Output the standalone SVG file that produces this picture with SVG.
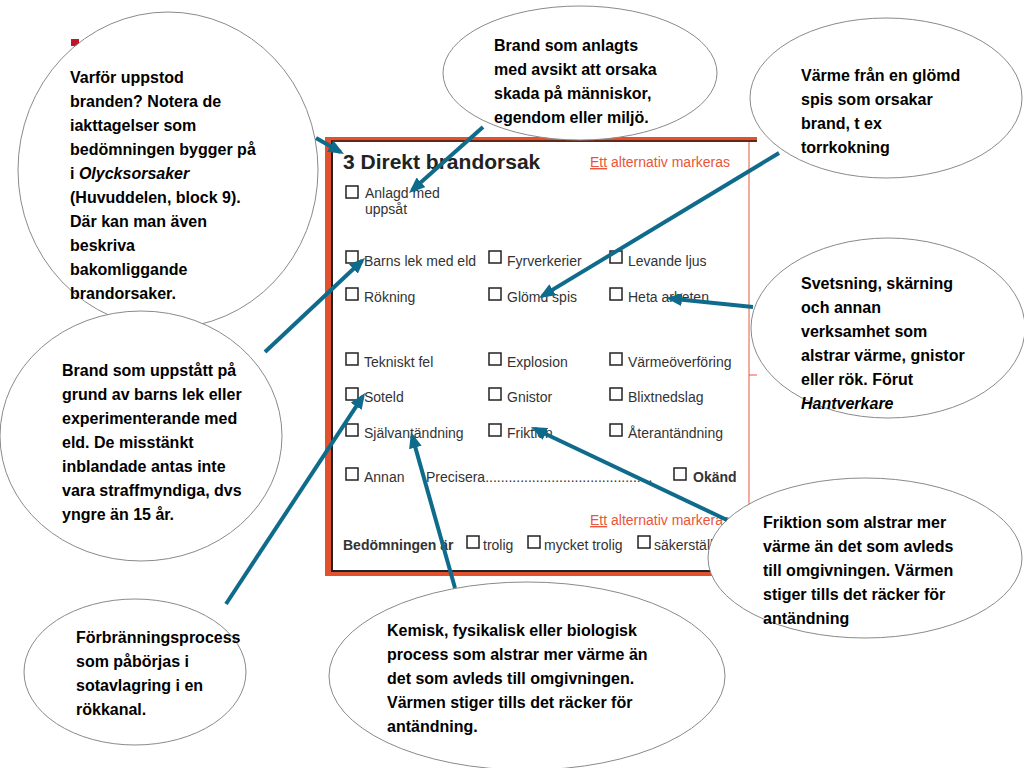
<svg xmlns="http://www.w3.org/2000/svg" width="1024" height="768" viewBox="0 0 1024 768">
<style>
.bub{fill:#fff;stroke:#8a8a8a;stroke-width:1}
.bt{font-family:"Liberation Sans",Arial,sans-serif;font-weight:bold;font-size:16px;fill:#000}
.ft{font-family:"Liberation Sans",Arial,sans-serif;font-size:14px;fill:#333}
.fb{font-family:"Liberation Sans",Arial,sans-serif;font-size:14px;font-weight:bold;fill:#333}
.red{font-family:"Liberation Sans",Arial,sans-serif;font-size:14px;fill:#e8553a}
.cb{fill:#fff;stroke:#222;stroke-width:1.5}
.ar{fill:none;stroke:#0f6b8c;stroke-width:4;marker-end:url(#ah)}
</style>
<defs>
<marker id="ah" markerUnits="userSpaceOnUse" markerWidth="16" markerHeight="13" viewBox="0 0 16 13" refX="12" refY="6.5" orient="auto">
<path d="M0,0 L16,6.5 L0,13 z" fill="#0f6b8c"/>
</marker>
</defs>
<rect width="1024" height="768" fill="#fff"/>
<rect x="71" y="39" width="8" height="7" fill="#c0142a"/>
<g id="form">
<rect x="325" y="137" width="432" height="5" fill="#e2512d"/>
<rect x="325" y="137" width="6" height="439" fill="#e2512d"/>
<rect x="325" y="571" width="432" height="5" fill="#e2512d"/>
<line x1="331" y1="141" x2="757" y2="141" stroke="#3a1a10" stroke-width="1.6"/>
<line x1="332" y1="141" x2="332" y2="572" stroke="#222" stroke-width="2"/>
<line x1="331" y1="571" x2="757" y2="571" stroke="#222" stroke-width="2"/>
<line x1="749" y1="142" x2="749" y2="510" stroke="#e8553a" stroke-width="1"/>
<line x1="749" y1="375" x2="757" y2="375" stroke="#e8553a" stroke-width="1"/>
<text x="343" y="169" style="font-family:'Liberation Sans',Arial,sans-serif;font-weight:bold;font-size:21px;fill:#222">3 Direkt brandorsak</text>
<text x="590" y="167" class="red"><tspan text-decoration="underline">Ett</tspan> alternativ markeras</text>
<rect x="346" y="186" width="12" height="12" class="cb"/>
<text x="365" y="198" class="ft">Anlagd med</text>
<text x="365" y="214" class="ft">uppsåt</text>
<rect x="346" y="251" width="12" height="12" class="cb"/><text x="364" y="266" class="ft">Barns lek med eld</text>
<rect x="489" y="251" width="12" height="12" class="cb"/><text x="507" y="266" class="ft">Fyrverkerier</text>
<rect x="610" y="251" width="12" height="12" class="cb"/><text x="628" y="266" class="ft">Levande ljus</text>
<rect x="346" y="288" width="12" height="12" class="cb"/><text x="364" y="302" class="ft">Rökning</text>
<rect x="489" y="288" width="12" height="12" class="cb"/><text x="507" y="302" class="ft">Glömd spis</text>
<rect x="610" y="288" width="12" height="12" class="cb"/><text x="628" y="302" class="ft">Heta arbeten</text>
<rect x="346" y="353" width="12" height="12" class="cb"/><text x="364" y="367" class="ft">Tekniskt fel</text>
<rect x="489" y="353" width="12" height="12" class="cb"/><text x="507" y="367" class="ft">Explosion</text>
<rect x="610" y="353" width="12" height="12" class="cb"/><text x="628" y="367" class="ft">Värmeöverföring</text>
<rect x="346" y="388" width="12" height="12" class="cb"/><text x="364" y="402" class="ft">Soteld</text>
<rect x="489" y="388" width="12" height="12" class="cb"/><text x="507" y="402" class="ft">Gnistor</text>
<rect x="610" y="388" width="12" height="12" class="cb"/><text x="628" y="402" class="ft">Blixtnedslag</text>
<rect x="346" y="424" width="12" height="12" class="cb"/><text x="364" y="438" class="ft">Självantändning</text>
<rect x="489" y="424" width="12" height="12" class="cb"/><text x="507" y="438" class="ft">Friktion</text>
<rect x="610" y="424" width="12" height="12" class="cb"/><text x="628" y="438" class="ft">Återantändning</text>
<rect x="346" y="468" width="12" height="12" class="cb"/><text x="364" y="482" class="ft">Annan</text>
<text x="426" y="482" class="ft">Precisera...........................................</text>
<rect x="674" y="468" width="12" height="12" class="cb"/><text x="693" y="482" class="fb">Okänd</text>
<text x="590" y="525" class="red"><tspan text-decoration="underline">Ett</tspan> alternativ markeras</text>
<text x="343" y="550" class="fb">Bedömningen är</text>
<rect x="467" y="536" width="12" height="12" class="cb"/><text x="483" y="550" class="ft">trolig</text>
<rect x="528" y="536" width="12" height="12" class="cb"/><text x="544" y="550" class="ft">mycket trolig</text>
<rect x="638" y="536" width="12" height="12" class="cb"/><text x="654" y="550" class="ft">säkerställd</text>
</g>
<g id="n1">
<ellipse cx="168" cy="170" rx="150" ry="158" class="bub"/>
<text class="bt"><tspan x="70" y="83">Varför uppstod</tspan><tspan x="70" y="107">branden? Notera de</tspan><tspan x="70" y="131">iakttagelser som</tspan><tspan x="70" y="155">bedömningen bygger på</tspan><tspan x="70" y="179">i <tspan font-style="italic">Olycksorsaker</tspan></tspan><tspan x="70" y="203">(Huvuddelen, block 9).</tspan><tspan x="70" y="227">Där kan man även</tspan><tspan x="70" y="251">beskriva</tspan><tspan x="70" y="275">bakomliggande</tspan><tspan x="70" y="299">brandorsaker.</tspan></text>
</g>
<g id="n2">
<ellipse cx="580" cy="73" rx="137" ry="67" class="bub"/>
<text class="bt"><tspan x="494" y="51">Brand som anlagts</tspan><tspan x="494" y="75">med avsikt att orsaka</tspan><tspan x="494" y="99">skada på människor,</tspan><tspan x="494" y="123">egendom eller miljö.</tspan></text>
</g>
<g id="n3">
<ellipse cx="886" cy="98" rx="136" ry="80" class="bub"/>
<text class="bt"><tspan x="801" y="81">Värme från en glömd</tspan><tspan x="801" y="105">spis som orsakar</tspan><tspan x="801" y="129">brand, t ex</tspan><tspan x="801" y="153">torrkokning</tspan></text>
</g>
<g id="n4">
<ellipse cx="888" cy="328" rx="137" ry="90" class="bub"/>
<text class="bt"><tspan x="801" y="289">Svetsning, skärning</tspan><tspan x="801" y="313">och annan</tspan><tspan x="801" y="337">verksamhet som</tspan><tspan x="801" y="361">alstrar värme, gnistor</tspan><tspan x="801" y="385">eller rök. Förut</tspan><tspan x="801" y="409" font-style="italic">Hantverkare</tspan></text>
</g>
<g id="n5">
<ellipse cx="141" cy="436" rx="141" ry="125" class="bub"/>
<text class="bt"><tspan x="62" y="376">Brand som uppstått på</tspan><tspan x="62" y="400">grund av barns lek eller</tspan><tspan x="62" y="424">experimenterande med</tspan><tspan x="62" y="448">eld. De misstänkt</tspan><tspan x="62" y="472">inblandade antas inte</tspan><tspan x="62" y="496">vara straffmyndiga, dvs</tspan><tspan x="62" y="520">yngre än 15 år.</tspan></text>
</g>
<g id="n6">
<ellipse cx="865" cy="558" rx="157" ry="80" class="bub"/>
<text class="bt"><tspan x="763" y="528">Friktion som alstrar mer</tspan><tspan x="763" y="552">värme än det som avleds</tspan><tspan x="763" y="576">till omgivningen. Värmen</tspan><tspan x="763" y="600">stiger tills det räcker för</tspan><tspan x="763" y="624">antändning</tspan></text>
</g>
<g id="n7">
<ellipse cx="135" cy="672" rx="111" ry="73" class="bub"/>
<text class="bt"><tspan x="76" y="643">Förbränningsprocess</tspan><tspan x="76" y="667">som påbörjas i</tspan><tspan x="76" y="691">sotavlagring i en</tspan><tspan x="76" y="715">rökkanal.</tspan></text>
</g>
<g id="n8">
<ellipse cx="527" cy="676" rx="198" ry="94" class="bub"/>
<text class="bt"><tspan x="387" y="636">Kemisk, fysikalisk eller biologisk</tspan><tspan x="387" y="660">process som alstrar mer värme än</tspan><tspan x="387" y="684">det som avleds till omgivningen.</tspan><tspan x="387" y="708">Värmen stiger tills det räcker för</tspan><tspan x="387" y="732">antändning.</tspan></text>
</g>
<g id="connectors">
<line x1="316" y1="138" x2="340.5" y2="152" class="ar"/>
<line x1="483" y1="127" x2="412" y2="190.3" class="ar"/>
<line x1="779" y1="153" x2="542.4" y2="295.9" class="ar"/>
<line x1="753" y1="307" x2="670" y2="298.4" class="ar"/>
<line x1="265" y1="352" x2="362.1" y2="260.7" class="ar"/>
<line x1="226" y1="604" x2="362.8" y2="396.3" class="ar"/>
<line x1="455" y1="588" x2="412.1" y2="435.9" class="ar"/>
<line x1="727" y1="520" x2="534.6" y2="428.7" class="ar"/>
</g>
</svg>
